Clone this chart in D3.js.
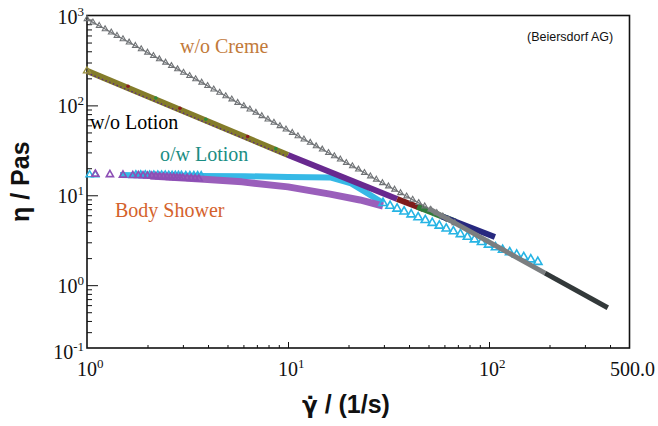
<!DOCTYPE html>
<html><head><meta charset="utf-8">
<script src="https://cdn.jsdelivr.net/npm/d3@7"></script>
<style>html,body{margin:0;padding:0;background:#fff}svg{display:block}</style>
</head><body>
<svg id="c" width="658" height="426"></svg>
<script>
// ---------------- DATA ----------------
const xDomain = [1, 500];
const yDomain = [0.2, 1000];
const xMajorTicks = [1, 10, 100, 500];
const xTickLabels = [["10", "0"], ["10", "1"], ["10", "2"], ["500.0", ""]];
const xMinorTicks = [2, 3, 4, 5, 6, 7, 8, 9, 20, 30, 40, 50, 60, 70, 80, 90, 200, 300, 400];
const yMajorTicks = [1000, 100, 10, 1];
const yTickLabels = [["10", "3"], ["10", "2"], ["10", "1"], ["10", "0"]];
const yBottomLabel = ["10", "-1"];
const yMinorTicks = [0.3, 0.4, 0.5, 0.6, 0.7, 0.8, 0.9, 2, 3, 4, 5, 6, 7, 8, 9,
  20, 30, 40, 50, 60, 70, 80, 90, 200, 300, 400, 500, 600, 700, 800, 900];

// w/o Creme (grey open triangles + line)
const cremeRate = [1.00, 1.07, 1.15, 1.23, 1.32, 1.41, 1.51, 1.62, 1.74, 1.86, 2.00, 2.14, 2.29, 2.46, 2.63, 2.82,
  3.02, 3.24, 3.47, 3.72, 3.98, 4.27, 4.57, 4.90, 5.25, 5.62, 6.03, 6.46, 6.92, 7.41, 7.94, 8.51, 9.12, 9.77,
  10.5, 11.2, 12.0, 12.9, 13.8, 14.8, 15.9, 17.0, 18.2, 19.5, 20.9, 22.4, 24.0, 25.7, 27.5, 29.5, 31.6, 33.9,
  36.3, 38.9, 41.7, 44.7, 47.9, 51.3, 55.0, 58.9, 63.1, 67.6];
const cremeEta = [914, 839, 770, 707, 649, 596, 547, 502, 461, 423, 388, 356, 327, 300, 275, 253,
  232, 213, 196, 180, 165, 151, 139, 127, 117, 107, 98.6, 90.5, 83.0, 76.2, 70.0, 64.3, 59.0, 54.1,
  49.7, 45.6, 41.9, 38.5, 35.2, 32.4, 29.7, 27.3, 25.1, 23.0, 21.1, 19.4, 17.8, 16.3, 15.0, 13.7, 12.6, 11.6,
  10.6, 9.75, 8.95, 8.22, 7.55, 6.93, 6.36, 5.83, 5.36, 4.92];
// w/o Creme, high shear range (thick band, two parts)
const cremeHighRate = [[50, 190], [190, 390]];
const cremeHighEta = [[7.15, 1.36], [1.36, 0.56]];

// w/o Lotion (coloured bands, several measuring ranges)
const lotionSegRate = [[1, 10], [10, 34.9], [34.9, 47], [44, 68], [58, 107]];
const lotionSegEta = [[242, 28.1], [28.1, 9.1], [9.1, 7.03], [7.44, 5.09], [5.85, 3.44]];
const lotionDotRate = [1.6, 2.2, 2.9, 3.9, 6.3, 8.7];
const lotionDotEta = [163, 121, 93, 70, 45, 33];

// o/w Lotion (cyan)
const owRate = [1.0, 1.46, 2.06, 3.65, 6.11, 10, 16.2, 20.4, 24.2, 29.7];
const owEta = [16.8, 16.8, 16.6, 16.4, 16.3, 16.0, 15.8, 13.7, 10.9, 8.2];
const owLowMarkRate = [1.03, 1.10, 1.75, 1.85, 1.95, 2.05, 2.15, 2.25, 2.35, 2.45, 2.55, 2.65, 2.75, 2.85, 2.95, 3.1, 3.25, 3.4, 3.55, 3.7];
const owLowMarkEta = [16.9, 16.9, 16.9, 16.9, 16.9, 16.8, 16.8, 16.8, 16.8, 16.8, 16.7, 16.7, 16.7, 16.7, 16.7, 16.6, 16.6, 16.6, 16.6, 16.5];
const owHighRate = [29.7, 32.2, 34.9, 37.8, 41.0, 44.4, 48.2, 52.2, 56.6, 61.3, 66.5, 72.1, 78.1, 84.7, 91.8,
  99.5, 107.8, 116.9, 126.7, 137.3, 148.9, 161.4, 174.9];
const owHighEta = [8.20, 7.62, 7.09, 6.59, 6.12, 5.69, 5.29, 4.92, 4.58, 4.26, 3.97, 3.69, 3.45, 3.22, 3.01,
  2.82, 2.63, 2.47, 2.32, 2.18, 2.05, 1.93, 1.81];

// Body Shower (purple)
const bsRate = [1.06, 2.06, 3.65, 5.9, 10, 16.2, 22.8, 29.7];
const bsEta = [17.3, 16.4, 15.2, 14.1, 12.4, 10.3, 8.87, 7.60];
const bsMarkRate = [1.10, 1.30, 1.51, 1.69, 1.80, 1.90, 2.0, 2.1, 2.2, 2.3, 2.4, 2.5, 2.6, 2.7, 2.8, 2.9, 3.0, 3.15, 3.3, 3.45, 3.6];
const bsMarkEta = [17.2, 17.0, 16.8, 16.6, 16.6, 16.5, 16.4, 16.4, 16.2, 16.1, 16.0, 15.9, 15.8, 15.8, 15.7, 15.6, 15.6, 15.5, 15.4, 15.3, 15.2];

const annotations = ["w/o Creme", "w/o Lotion", "o/w Lotion", "Body Shower"];
const credit = "(Beiersdorf AG)";
const yTitle = "\u03b7 / Pas";
const xTitleSymbol = "\u03b3\u0307";
const xTitleRest = " / (1/s)";

// ---------------- STYLE / LAYOUT ----------------
const W = 658, H = 426;
const L = 87, R = 629.5, T = 15.5, B = 348;
const lotionColors = ["#847c2a", "#68298f", "#7e1b1b", "#2f7d3a", "#27287f"];
const annoStyle = [
  {x: 180, y: 53, color: "#c27a3a"},
  {x: 90, y: 129, color: "#000"},
  {x: 160, y: 161, color: "#1a8d83"},
  {x: 115, y: 217, color: "#d4622c"}
];
const serif = "'Liberation Serif','Times New Roman',serif";
const sans = "'Liberation Sans',Arial,sans-serif";

const svg = d3.select("#c");
svg.append("rect").attr("width", W).attr("height", H).attr("fill", "#fff");

const x = d3.scaleLog().domain(xDomain).range([L, R]);
const y = d3.scaleLog().domain(yDomain).range([B, T]);
const zip = (a, b) => a.map((v, i) => [v, b[i]]);
const line = d3.line().x(d => x(d[0])).y(d => y(d[1]));

// ---------------- AXES ----------------
function styleAxis(g) {
  g.select(".domain").remove();
  g.selectAll("line").attr("stroke", "#111").attr("stroke-width", 1);
}
svg.append("g").attr("transform", `translate(0,${B})`)
  .call(d3.axisBottom(x).tickValues(xMinorTicks).tickSize(-3).tickFormat(() => "")).call(styleAxis);
svg.append("g").attr("transform", `translate(0,${B})`)
  .call(d3.axisBottom(x).tickValues(xMajorTicks.slice(1, 3)).tickSize(-6).tickFormat(() => "")).call(styleAxis);
svg.append("g").attr("transform", `translate(${L},0)`)
  .call(d3.axisLeft(y).tickValues(yMinorTicks).tickSize(-5).tickFormat(() => "")).call(styleAxis);
svg.append("g").attr("transform", `translate(${L},0)`)
  .call(d3.axisLeft(y).tickValues(yMajorTicks.slice(1)).tickSize(-11).tickFormat(() => "")).call(styleAxis);

// frame
svg.append("rect").attr("x", L).attr("y", T).attr("width", R - L).attr("height", B - T)
  .attr("fill", "none").attr("stroke", "#111").attr("stroke-width", 1.6);

// tick labels
xMajorTicks.forEach((v, i) => {
  const lab = xTickLabels[i];
  const t = svg.append("text").attr("font-family", serif).attr("font-size", 20).attr("fill", "#111")
    .attr("y", 376);
  if (lab[1] === "") {
    t.attr("x", x(v) + 3).attr("text-anchor", "middle").text(lab[0]);
  } else {
    t.attr("x", x(v) - 10).attr("text-anchor", "start");
    t.append("tspan").text(lab[0]);
    t.append("tspan").attr("font-size", 13).attr("dy", -8).text(lab[1]);
  }
});
function yLabel(yy, lab) {
  const t = svg.append("text").attr("font-family", serif).attr("font-size", 20).attr("fill", "#111")
    .attr("x", L - 3).attr("y", yy).attr("text-anchor", "end");
  t.append("tspan").text(lab[0]);
  t.append("tspan").attr("font-size", 13).attr("dy", -8).text(lab[1]);
}
yMajorTicks.forEach((v, i) => yLabel(y(v) + 8, yTickLabels[i]));
yLabel(y(yDomain[0]) + 11, yBottomLabel);

// axis titles
svg.append("text").attr("transform", `translate(29,${(T + B) / 2}) rotate(-90)`)
  .attr("text-anchor", "middle").attr("font-family", sans).attr("font-weight", "bold")
  .attr("font-size", 25).attr("fill", "#111").text(yTitle);
{
  const xt = svg.append("text").attr("x", 346).attr("y", 413).attr("text-anchor", "middle")
    .attr("font-family", sans).attr("font-weight", "bold").attr("font-size", 25).attr("fill", "#111");
  xt.append("tspan").attr("font-family", "'DejaVu Sans',sans-serif").attr("font-size", 23).text(xTitleSymbol);
  xt.append("tspan").text(xTitleRest);
}

// ---------------- SERIES ----------------
const plot = svg.append("g");
function band(pts, color, width, opacity) {
  plot.append("path").attr("d", line(pts)).attr("fill", "none").attr("stroke", color)
    .attr("stroke-width", width).attr("stroke-linecap", "butt").attr("stroke-linejoin", "round")
    .attr("opacity", opacity || 1);
}
function tris(pts, color, size, sw) {
  plot.append("g").selectAll("path").data(pts).join("path")
    .attr("transform", d => `translate(${x(d[0])},${y(d[1])})`)
    .attr("d", d3.symbol(d3.symbolTriangle, size)())
    .attr("fill", "none").attr("stroke", color).attr("stroke-width", sw);
}

// o/w Lotion low-shear band
const owPts = zip(owRate, owEta);
band(owPts.filter(d => d[0] >= 1.46), "#36b9e6", 6);
tris(zip(owLowMarkRate, owLowMarkEta), "#2ab3e2", 22, 1.5);

// Body Shower
band(zip(bsRate, bsEta).filter(d => d[0] >= 2.06), "#9a5fbb", 7);
tris(zip(bsMarkRate, bsMarkEta), "#8d4fb5", 22, 1.6);

// o/w Lotion high-shear triangles
tris(zip(owHighRate, owHighEta), "#26b4e4", 30, 1.6);

// w/o Lotion segments
lotionSegRate.forEach((r, i) => band(zip(r, lotionSegEta[i]), lotionColors[i], 6));
plot.append("path").attr("d", line(zip(lotionSegRate[0], lotionSegEta[0])))
  .attr("transform", "translate(0,2)").attr("fill", "none").attr("stroke", "#5a2a80")
  .attr("stroke-width", 1.4).attr("stroke-dasharray", "1.5,2.5");
plot.append("g").selectAll("circle").data(zip(lotionDotRate, lotionDotEta)).join("circle")
  .attr("cx", d => x(d[0])).attr("cy", d => y(d[1])).attr("r", 1.8)
  .attr("fill", (d, i) => i % 2 ? "#2f8a3a" : "#8b1c1c");
tris([[lotionSegRate[0][0], lotionSegEta[0][0]]], "#9a9040", 22, 1.3);

// w/o Creme
const cremePts = zip(cremeRate, cremeEta);
plot.append("path").attr("d", line(cremePts)).attr("fill", "none").attr("stroke", "#7a7d80").attr("stroke-width", 1.3);
tris(cremePts, "#6f7275", 14, 1.1);
band(zip(cremeHighRate[0], cremeHighEta[0]), "#7b7e80", 5);
band(zip(cremeHighRate[1], cremeHighEta[1]), "#33393a", 5);

// ---------------- ANNOTATIONS ----------------
annotations.forEach((t, i) => {
  const s = annoStyle[i];
  svg.append("text").attr("x", s.x).attr("y", s.y).attr("font-family", serif).attr("font-size", 20)
    .attr("fill", s.color).text(t);
});
svg.append("text").attr("x", 527).attr("y", 41).attr("font-family", sans).attr("font-size", 12.5)
  .attr("fill", "#111").text(credit);
</script>
</body></html>
